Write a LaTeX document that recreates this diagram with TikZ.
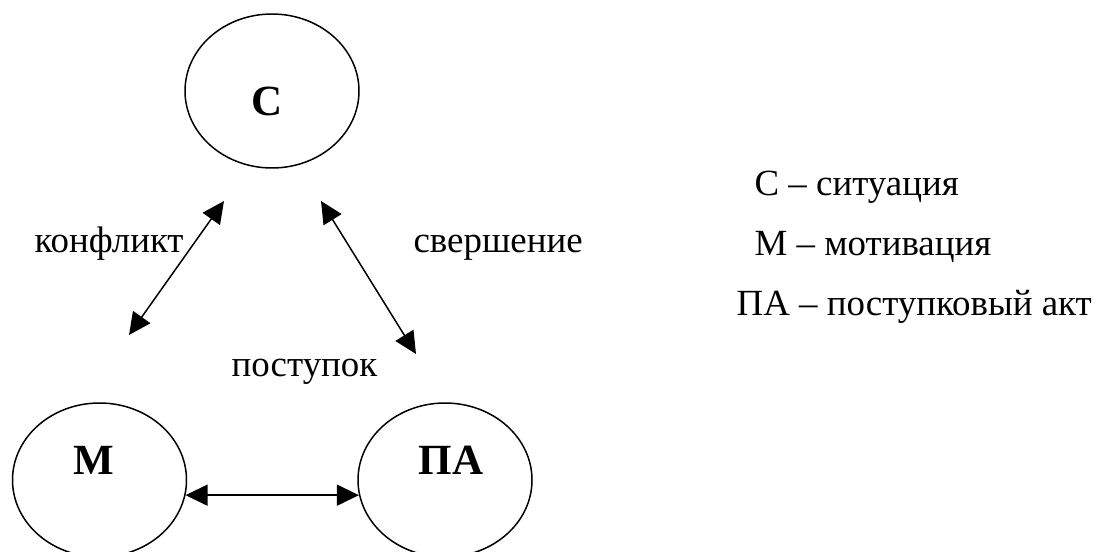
\documentclass[tikz,border=0pt]{standalone}
\usepackage{fontspec}
\setmainfont{Liberation Serif}
\usetikzlibrary{shapes.geometric,arrows.meta}
\begin{document}
\begin{tikzpicture}[line width=0.85pt,
    every node/.style={font=\fontsize{21}{25}\selectfont},
    oval/.style={shape=ellipse,draw=black,inner sep=0pt,minimum width=3.48cm,minimum height=3.08cm},
    lbl/.style={anchor=base,font=\fontsize{24.5}{29}\selectfont\bfseries},
    twoway/.style={{Triangle[length=0.44cm,width=0.42cm]}-{Triangle[length=0.44cm,width=0.42cm]}}]
            \useasboundingbox (0,0) rectangle (22,11.02);
            \node[oval] (C) at (5.44,9.20) {};
            \node[oval] (M) at (1.99,1.42) {};
            \node[oval] (PA) at (8.90,1.42) {};
            \node[lbl] (Ct) at (5.34,8.70) {С};
            \node[lbl] (Mt) at (1.88,1.54) {М};
            \node[lbl] (PAt) at (9.02,1.54) {ПА};

            \coordinate (cm1) at (4.48,7.00);
            \coordinate (cm2) at (2.58,4.32);
            \coordinate (cp1) at (6.42,7.00);
            \coordinate (cp2) at (8.32,3.94);
            \path (cm1) edge [twoway] (cm2);
            \path (cp1) edge [twoway] (cp2);
            \path (M.-10.5) edge [twoway] (PA.190.5);

            \node[anchor=base west] (konf) at (0.56,5.98) {конфликт};
            \node[anchor=base west] (sver) at (8.14,5.98) {свершение};
            \node[anchor=base west] (post) at (4.50,3.50) {поступок};

            \node[anchor=base west] (legC) at (14.96,7.12) {С – ситуация};
            \node[anchor=base west] (legM) at (14.96,5.92) {М – мотивация};
            \node[anchor=base west] (legPA) at (14.60,4.72) {ПА – поступковый акт};
        \end{tikzpicture}
\end{document}
